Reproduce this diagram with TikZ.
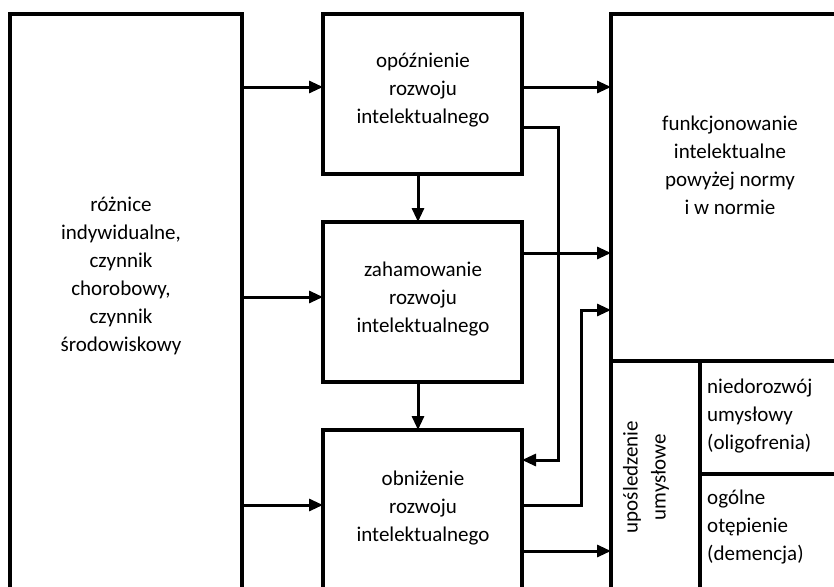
\documentclass[tikz,border=0pt]{standalone}
\usepackage{fontspec}
\setmainfont{Carlito}
\usetikzlibrary{arrows.meta,calc}
\begin{document}
\begin{tikzpicture}[x=1pt,y=-1pt,
  box/.style={draw,line width=3.8pt,outer sep=0pt,inner sep=0pt,anchor=north west},
  thin box/.style={draw,line width=3.5pt,outer sep=0pt,inner sep=0pt,anchor=north west},
  txt/.style={inner sep=0pt,align=center,font=\fontsize{21pt}{28pt}\selectfont},
  ltxt/.style={inner sep=0pt,align=left,anchor=west,font=\fontsize{21pt}{28pt}\selectfont},
  arr/.style={line width=3pt,-{Triangle[length=14pt,width=12pt]}},
  ln/.style={line width=3pt}]
\path[use as bounding box] (0,0) rectangle (834,586);
\clip (0,0) rectangle (834,586);
% boxes
\node[box,minimum width=232pt,minimum height=620pt] (L) at (10,14) {};
\node[box,minimum width=199pt,minimum height=160pt] (B1) at (323,14) {};
\node[box,minimum width=199pt,minimum height=160pt] (B2) at (323,222) {};
\node[box,minimum width=199pt,minimum height=220pt] (B3) at (323,430) {};
\node[box,minimum width=260pt,minimum height=347pt] (R) at (611,14) {};
\node[thin box,minimum width=89pt,minimum height=260pt] (U) at (611,361) {};
\node[thin box,minimum width=170pt,minimum height=113pt] (N) at (700,361) {};
\node[thin box,minimum width=170pt,minimum height=160pt] (D) at (700,474) {};
% texts
\node[txt] (tL) at (121,276) {różnice\\indywidualne,\\czynnik\\chorobowy,\\czynnik\\środowiskowy};
\node[txt] (t1) at (423,90) {opóźnienie\\rozwoju\\intelektualnego};
\node[txt] (t2) at (423,299) {zahamowanie\\rozwoju\\intelektualnego};
\node[txt] (t3) at (423,508) {obniżenie\\rozwoju\\intelektualnego};
\node[txt] (tR) at (730,165) {funkcjonowanie\\intelektualne\\powyżej normy\\i w normie};
\node[txt,rotate=90] (tU) at (646,477) {upośledzenie\\umysłowe};
\node[ltxt] (tN) at (707,416) {niedorozwój\\umysłowy\\(oligofrenia)};
\node[ltxt] (tD) at (707,527) {ogólne\\otępienie\\(demencja)};
% connectors
\coordinate (a1) at ([yshift=-73pt]L.north east);
\coordinate (a2) at ([yshift=-283pt]L.north east);
\coordinate (a3) at ([yshift=-491pt]L.north east);
\draw[arr] (a1) -- (a1 -| B1.west);
\draw[arr] (a2) -- (a2 -| B2.west);
\draw[arr] (a3) -- (a3 -| B3.west);
\coordinate (b1) at ([yshift=-73pt]B1.north east);
\coordinate (b2) at ([yshift=-31pt]B2.north east);
\draw[arr] (b1) -- (b1 -| R.west);
\draw[arr] (b2) -- (b2 -| R.west);
\coordinate (d1) at ([xshift=95pt]B1.south west);
\coordinate (d2) at ([xshift=95pt]B2.south west);
\draw[arr] (d1) -- (d1 |- B2.north);
\draw[arr] (d2) -- (d2 |- B3.north);
\coordinate (c1) at ([yshift=-113pt]B1.north east);
\draw[arr] (c1) -- ++(36,0) |- ([yshift=-30pt]B3.north east);
\coordinate (c2) at ([yshift=-75pt]B3.north east);
\draw[arr] (c2) -- ++(59,0) |- ([yshift=-296pt]R.north west);
\coordinate (c3) at ([yshift=-121pt]B3.north east);
\draw[arr] (c3) -- (c3 -| U.west);
\end{tikzpicture}
\end{document}
